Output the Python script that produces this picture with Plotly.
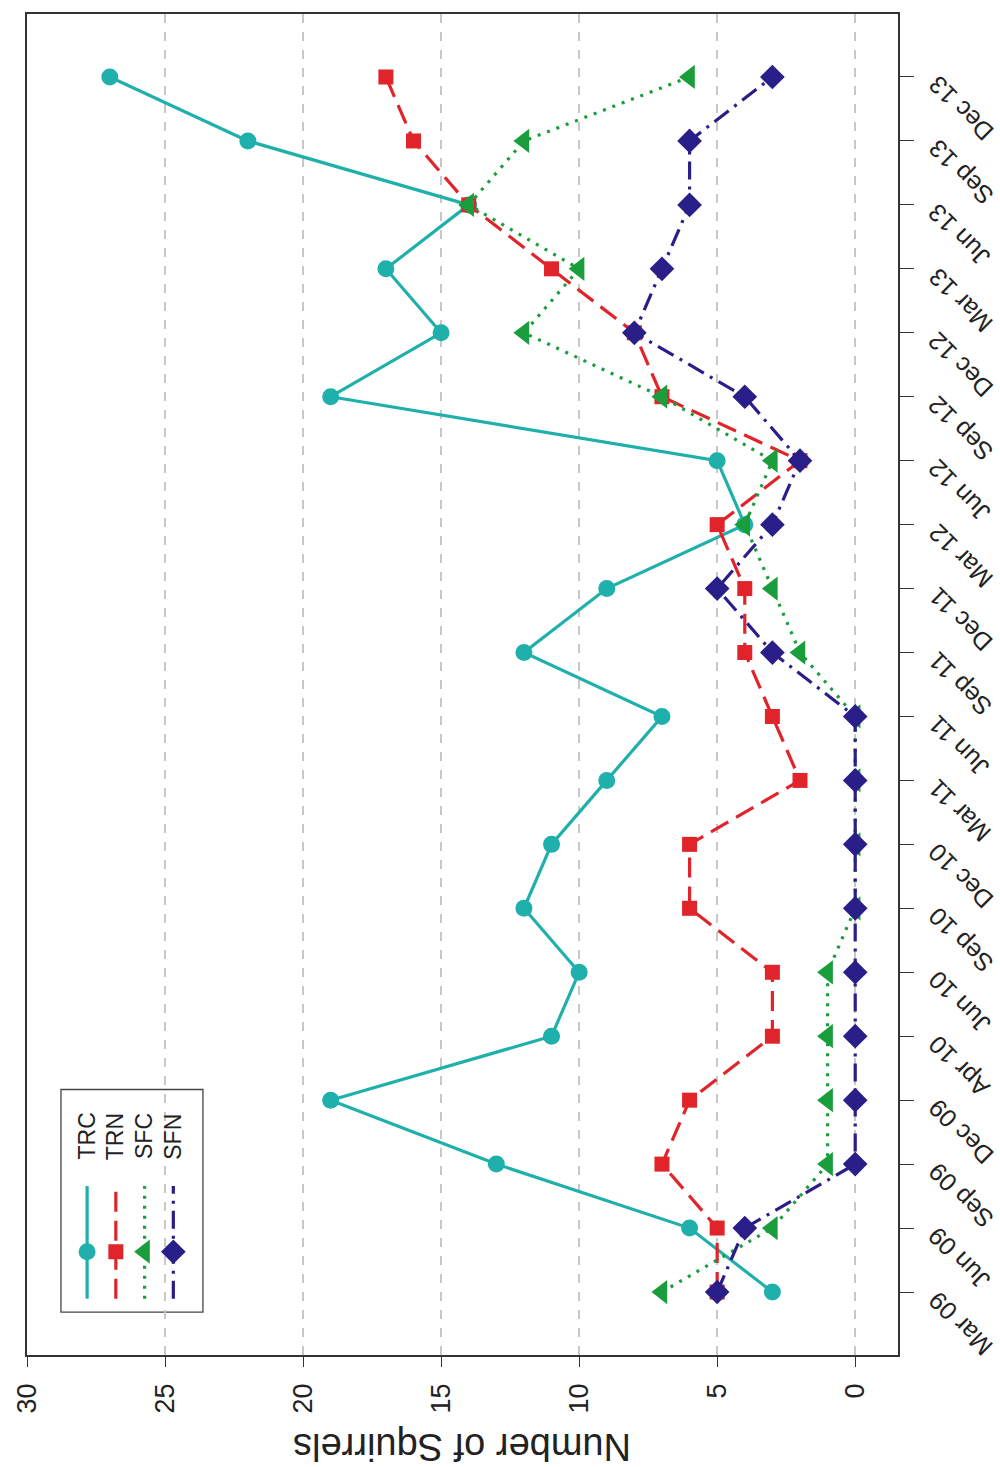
import plotly.graph_objects as go

# Survey occasions (one per quarter)
dates = ["Mar 09", "Jun 09", "Sep 09", "Dec 09", "Apr 10", "Jun 10", "Sep 10",
         "Dec 10", "Mar 11", "Jun 11", "Sep 11", "Dec 11", "Mar 12", "Jun 12",
         "Sep 12", "Dec 12", "Mar 13", "Jun 13", "Sep 13", "Dec 13"]

# Squirrel counts per site
trc = [3, 6, 13, 19, 11, 10, 12, 11, 9, 7, 12, 9, 4, 5, 19, 15, 17, 14, 22, 27]
trn = [5, 5, 7, 6, 3, 3, 6, 6, 2, 3, 4, 4, 5, 2, 7, 8, 11, 14, 16, 17]
sfc = [7, 3, 1, 1, 1, 1, 0, 0, 0, 0, 2, 3, 4, 3, 7, 12, 10, 14, 12, 6]
sfn = [5, 4, 0, 0, 0, 0, 0, 0, 0, 0, 3, 5, 3, 2, 4, 8, 7, 6, 6, 3]

value_ticks = [0, 5, 10, 15, 20, 25, 30]
series_names = ["TRC", "TRN", "SFC", "SFN"]

styles = {
    "TRC": dict(color="#20b0ac", dash="solid", symbol="circle", size=17),
    "TRN": dict(color="#e0242a", dash="20px,9px", symbol="square", size=15),
    "SFC": dict(color="#1a9e3c", dash="3px,7px", symbol="triangle-left", size=21),
    "SFN": dict(color="#2a1f88", dash="18px,7px,3px,7px", symbol="diamond", size=19),
}
values = {"TRC": trc, "TRN": trn, "SFC": sfc, "SFN": sfn}
text_color = "#222"
font_family = "Liberation Sans, Arial, sans-serif"

fig = go.Figure()
for name in series_names:
    st = styles[name]
    fig.add_trace(go.Scatter(
        x=values[name], y=dates, mode="lines+markers", name=name,
        line=dict(color=st["color"], width=3.2, dash=st["dash"]),
        marker=dict(color=st["color"], symbol=st["symbol"], size=st["size"]),
        showlegend=False,
    ))

# Hand-built key in the lower-left corner (fractions of the plot area)
key_x0, key_x1, key_y0, key_y1 = 0.039, 0.202, 0.032, 0.198
key_cols = [0.069, 0.102, 0.135, 0.168]
line_y0, line_y1, mark_y, text_y = 0.042, 0.126, 0.077, 0.163

shapes = [dict(type="rect", xref="paper", yref="paper", x0=key_x0, x1=key_x1,
               y0=key_y0, y1=key_y1, line=dict(color="#444", width=1.3),
               fillcolor="white", layer="between")]
annotations = []
for cx, name in zip(key_cols, series_names):
    st = styles[name]
    fig.add_trace(go.Scatter(
        x=[cx, cx], y=[line_y0, line_y1], mode="lines", xaxis="x2", yaxis="y2",
        line=dict(color=st["color"], width=3.2, dash=st["dash"]), showlegend=False,
        hoverinfo="skip"))
    fig.add_trace(go.Scatter(
        x=[cx], y=[mark_y], mode="markers", xaxis="x2", yaxis="y2",
        marker=dict(color=st["color"], symbol=st["symbol"], size=st["size"]),
        showlegend=False, hoverinfo="skip"))
    annotations.append(dict(x=cx, y=text_y, xref="paper", yref="paper", text=name,
                            showarrow=False, textangle=-90,
                            xanchor="center", yanchor="middle",
                            font=dict(size=23, color=text_color)))

# Slanted date labels on the right-hand axis
for d in dates:
    annotations.append(dict(x=1, y=d, xref="paper", yref="y", text=d,
                            showarrow=False, textangle=-135,
                            xanchor="left", yanchor="top", xshift=22, yshift=9,
                            font=dict(size=25, color=text_color)))

annotations.append(dict(x=0.5, y=-0.0685, xref="paper", yref="paper",
                        text="Number of Squirrels", showarrow=False, textangle=180,
                        xanchor="center", yanchor="middle",
                        font=dict(size=38, color=text_color)))

fig.update_layout(
    width=1000, height=1467,
    margin=dict(l=23, r=102, t=12, b=112),
    paper_bgcolor="white", plot_bgcolor="white",
    font=dict(family=font_family, size=20, color=text_color),
    shapes=shapes, annotations=annotations,
    xaxis=dict(range=[30, -1.55], tickvals=value_ticks, ticks="outside", ticklen=10,
               tickwidth=1.3, tickcolor="#333", tickangle=-90, ticklabelstandoff=6,
               showline=True, linecolor="#333", linewidth=1.5, mirror=True,
               showgrid=True, gridcolor="#c8c8c8", gridwidth=1.5, griddash="dash",
               zeroline=False, tickfont=dict(size=27)),
    yaxis=dict(type="category", categoryorder="array", categoryarray=dates,
               range=[-0.985, 19.985], side="right", ticks="outside", ticklen=14,
               tickwidth=1.3, tickcolor="#333", showticklabels=False,
               showline=True, linecolor="#333", linewidth=1.5, mirror=True,
               showgrid=False, zeroline=False),
    xaxis2=dict(domain=[0, 1], range=[0, 1], overlaying="x", visible=False),
    yaxis2=dict(domain=[0, 1], range=[0, 1], overlaying="y", visible=False),
)

fig.write_html("out.html")
